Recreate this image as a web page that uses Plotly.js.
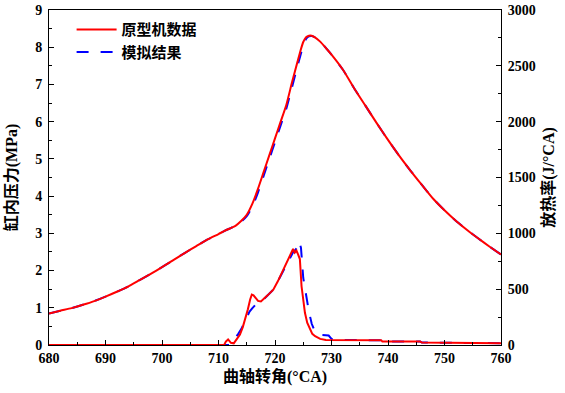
<!DOCTYPE html>
<html>
<head>
<meta charset="utf-8">
<script src="https://cdn.plot.ly/plotly-3.0.1.min.js"></script>
<style>html,body{margin:0;padding:0;background:#fff;}#chart{width:565px;height:393px;}</style>
</head>
<body>
<div id="chart"></div>
<script>
// Cylinder pressure (MPa) - prototype data
const pExpAngle = [680,682,684,686,688,690,692,694,696,698,700,702,704,706,708,710,711,712,713,714,715,716,717,718,719,720,721,722,723,724,724.5,725,725.5,726,726.5,727,728,729,730,732,734,736,738,740,742,744,746,748,750,752,754,756,758,760];
const pExp = [0.845,0.92,0.99,1.08,1.18,1.30,1.43,1.57,1.74,1.91,2.09,2.28,2.47,2.65,2.83,2.98,3.06,3.13,3.20,3.33,3.50,3.80,4.20,4.65,5.10,5.55,6.00,6.45,7.05,7.62,7.90,8.14,8.27,8.31,8.31,8.27,8.15,7.98,7.80,7.40,6.90,6.43,5.96,5.51,5.08,4.68,4.30,3.93,3.62,3.34,3.09,2.86,2.64,2.43];
// Cylinder pressure (MPa) - simulation
const pSimAngle = [680,682,684,686,688,690,692,694,696,698,700,702,704,706,708,710,711,712,713,714,715,716,717,718,719,720,721,722,723,724,724.5,725,725.5,726,726.5,727,728,729,730,732,734,736,738,740,742,744,746,748,750,752,754,756,758,760];
const pSim = [0.845,0.92,0.99,1.08,1.18,1.30,1.43,1.57,1.74,1.91,2.09,2.28,2.47,2.65,2.83,2.98,3.06,3.13,3.20,3.31,3.46,3.72,4.10,4.55,5.00,5.45,5.90,6.35,6.92,7.50,7.78,8.05,8.22,8.29,8.30,8.27,8.15,7.98,7.80,7.40,6.90,6.43,5.96,5.51,5.08,4.68,4.30,3.93,3.62,3.34,3.09,2.86,2.64,2.43];
// Heat release rate (J/°CA) - prototype data
const qExpAngle = [680,711,711.3,711.7,712.2,712.7,713.2,713.8,714.3,714.7,715.2,715.6,715.9,716.2,716.5,717.0,717.5,718.0,718.5,719.0,719.7,720.5,721.5,722.2,722.7,723.2,723.5,723.8,724.1,724.4,724.7,725.0,725.3,725.7,726.2,726.6,727.1,728,729,738.8,739,745.7,746,754.5,754.7,760];
const qExp = [0,0,30,50,20,15,50,94,160,228,320,407,452,445,425,395,390,410,437,460,496,570,675,740,794,860,827,845,810,770,526,400,288,200,139,100,79,55,45,43,31,31,22,22,16,16];
// Heat release rate (J/°CA) - simulation
const qSimAngle = [680,712.0,712.5,713,713.5,714,714.5,715,715.5,716.0,716.5,717.0,717.5,718.0,718.5,719.0,719.7,720.5,721.5,722.2,722.7,723.2,723.6,724.0,724.3,724.6,725.0,725.5,726,726.5,727,727.5,728,729.5,730,731,738.8,739,745.7,746,754.5,754.7,760];
const qSim = [0,0,30,60,100,140,190,250,300,330,360,385,395,410,435,460,496,570,670,740,790,830,850,880,928,870,600,437,300,190,130,100,90,85,55,45,43,31,31,22,22,16,16];

const legendExp = '原型机数据';
const legendSim = '模拟结果';
const xTitle = '曲轴转角(°CA)';
const yTitle = '缸内压力(MPa)';
const y2Title = '放热率(J/°CA)';

const FONT = 'Liberation Serif, "Times New Roman", "Noto Sans CJK SC", serif';
const RED = '#ff0000', BLUE = '#0000ff';

const traces = [
  {x: pSimAngle, y: pSim, type: 'scatter', mode: 'lines', name: legendSim, legendrank: 2,
   line: {color: BLUE, width: 2, dash: '12px,12px', shape: 'spline', smoothing: 0.6}, yaxis: 'y'},
  {x: qSimAngle, y: qSim, type: 'scatter', mode: 'lines', showlegend: false,
   line: {color: BLUE, width: 2, dash: '12px,12px'}, yaxis: 'y2'},
  {x: pExpAngle, y: pExp, type: 'scatter', mode: 'lines', name: legendExp, legendrank: 1,
   line: {color: RED, width: 2, shape: 'spline', smoothing: 0.6}, yaxis: 'y'},
  {x: qExpAngle, y: qExp, type: 'scatter', mode: 'lines', showlegend: false,
   line: {color: RED, width: 2}, yaxis: 'y2'}
];

const tickFont = {family: FONT, size: 14, color: '#000', weight: 'bold'};
const titleFont = {family: FONT, size: 16, color: '#000', weight: 'bold'};

const layout = {
  width: 565, height: 393,
  margin: {l: 49, r: 64, t: 10, b: 48, pad: 0},
  paper_bgcolor: '#fff', plot_bgcolor: '#fff',
  showlegend: true,
  legend: {x: 0.05, y: 0.99, xanchor: 'left', yanchor: 'top', bgcolor: 'rgba(0,0,0,0)',
           itemwidth: 40, tracegroupgap: 0,
           font: {family: FONT, size: 15, color: '#000', weight: 'bold'}},
  xaxis: {range: [680, 760], dtick: 10, tick0: 680, ticks: 'inside', ticklen: 5, tickwidth: 1,
          tickcolor: '#000', showline: true, linecolor: '#000', linewidth: 1, mirror: true,
          showgrid: false, zeroline: false, tickfont: tickFont,
          minor: {dtick: 5, ticks: 'inside', ticklen: 3, tickcolor: '#000', showgrid: false},
          title: {text: xTitle, font: titleFont, standoff: 6}},
  yaxis: {range: [0, 9], dtick: 1, ticks: 'inside', ticklen: 5, tickwidth: 1, tickcolor: '#000',
          showline: true, linecolor: '#000', linewidth: 1, showgrid: false, zeroline: false,
          tickfont: tickFont, ticklabelstandoff: 3,
          minor: {dtick: 0.5, ticks: 'inside', ticklen: 3, tickcolor: '#000', showgrid: false},
          title: {text: yTitle, font: titleFont, standoff: 13}},
  yaxis2: {range: [0, 3000], dtick: 500, overlaying: 'y', side: 'right', ticks: 'inside', ticklen: 5,
           tickwidth: 1, tickcolor: '#000', showline: true, linecolor: '#000', linewidth: 1,
           showgrid: false, zeroline: false, tickfont: tickFont, ticklabelstandoff: 3,
           minor: {dtick: 250, ticks: 'inside', ticklen: 3, tickcolor: '#000', showgrid: false},
           title: {text: y2Title, font: titleFont, standoff: 8}}
};

Plotly.newPlot('chart', traces, layout, {displayModeBar: false, staticPlot: true});
</script>
</body>
</html>
